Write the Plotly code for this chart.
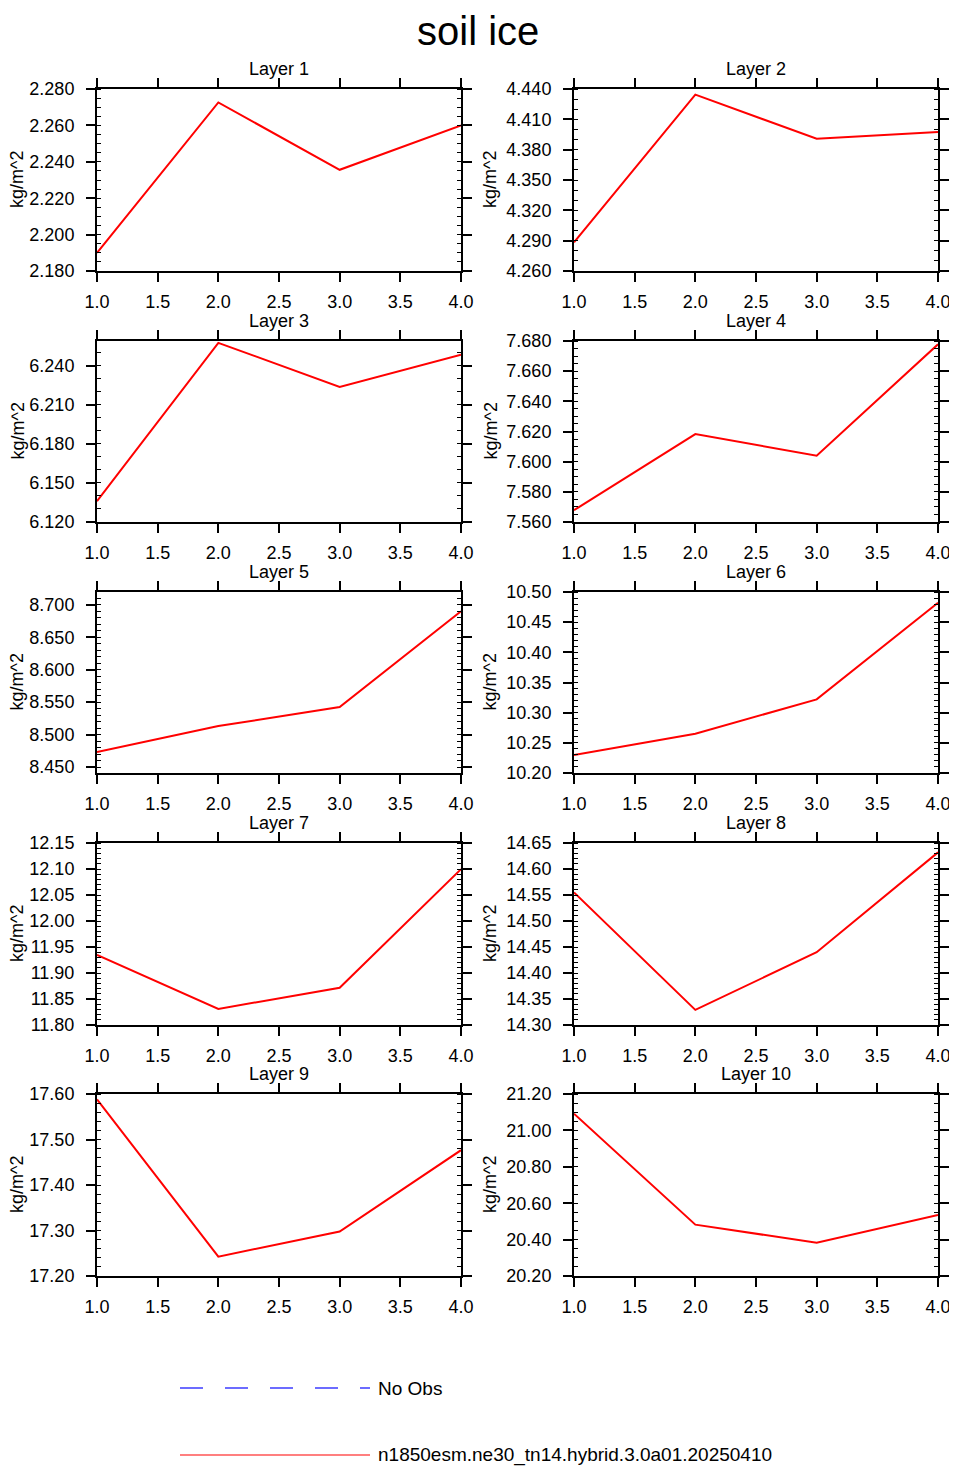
import plotly.graph_objects as go

# eixo x comum (pontos 1..4)
x = [1, 2, 3, 4]

# valores de cada camada
layer1 = [2.190, 2.2726, 2.2356, 2.2600]
layer2 = [4.2884, 4.4344, 4.3908, 4.3974]
layer3 = [6.136, 6.2574, 6.2236, 6.2482]
layer4 = [7.5678, 7.6183, 7.6040, 7.6778]
layer5 = [8.4731, 8.5131, 8.5424, 8.6898]
layer6 = [10.230, 10.265, 10.322, 10.4823]
layer7 = [11.935, 11.831, 11.8716, 12.0998]
layer8 = [14.555, 14.329, 14.440, 14.632]
layer9 = [17.588, 17.2426, 17.2977, 17.4765]
layer10 = [21.092, 20.482, 20.383, 20.535]

titles = ['Layer %d' % i for i in range(1, 11)]
y_ranges = [[2.18, 2.28], [4.26, 4.44], [6.12, 6.2588], [7.56, 7.68], [8.4408, 8.7196],
            [10.2, 10.5], [11.8, 12.15], [14.3, 14.65], [17.2, 17.6], [20.2, 21.2]]
y_tick0 = [2.18, 4.26, 6.12, 7.56, 8.45, 10.2, 11.8, 14.3, 17.2, 20.2]
y_dtick = [0.02, 0.03, 0.03, 0.02, 0.05, 0.05, 0.05, 0.05, 0.1, 0.2]
y_minor = [0.005, 0.01, 0.01, 0.005, 0.01, 0.01, 0.01, 0.01, 0.02, 0.05]
y_fmt = ['.3f'] * 5 + ['.2f'] * 5

legend_labels = ['No Obs', 'n1850esm.ne30_tn14.hybrid.3.0a01.20250410']

series = [layer1, layer2, layer3, layer4, layer5, layer6, layer7, layer8, layer9, layer10]

# a pagina tem margem de 8px no body, entao desconto isso das posicoes
OFF = 8
W, H = 957 - OFF, 1466 - OFF
FONT = 'Liberation Sans, Arial, sans-serif'


def px(v):
    return (v - OFF) / W


def py(v):
    return 1 - (v - OFF) / H


# posicoes dos paineis em pixels da tela
col_px = [(97, 461), (574, 938)]
ylab_px = [17, 490]
row_px = [(89, 271), (341, 522), (592, 773), (843, 1025), (1094, 1276)]

fig = go.Figure()
annotations = []

for i, y in enumerate(series):
    r, c = divmod(i, 2)
    n = i + 1
    xa = 'x' if n == 1 else 'x%d' % n
    ya = 'y' if n == 1 else 'y%d' % n
    fig.add_trace(go.Scatter(x=x, y=y, mode='lines', xaxis=xa, yaxis=ya,
                             line=dict(color='#ff0000', width=2), showlegend=False))
    x0, x1 = col_px[c]
    y0, y1 = row_px[r]
    common = dict(showline=True, linecolor='black', linewidth=2, mirror='ticks',
                  ticks='outside', ticklen=9, tickwidth=1.5, tickcolor='black',
                  showgrid=False, zeroline=False, automargin=False,
                  tickfont=dict(family=FONT, size=18, color='black'))
    fig.layout['xaxis' if n == 1 else 'xaxis%d' % n] = dict(
        domain=[px(x0), px(x1)], anchor=ya, range=[1, 4], tick0=1, dtick=0.5,
        tickformat='.1f', ticklabelstandoff=4, **common)
    fig.layout['yaxis' if n == 1 else 'yaxis%d' % n] = dict(
        domain=[py(y1), py(y0)], anchor=xa, range=y_ranges[i],
        tick0=y_tick0[i], dtick=y_dtick[i], tickformat=y_fmt[i],
        ticklabelstandoff=8,
        minor=dict(ticks='inside', ticklen=4, tickwidth=1, tickcolor='black',
                   dtick=y_minor[i], tick0=y_tick0[i], showgrid=False),
        **common)
    # titulo do painel
    annotations.append(dict(text=titles[i], x=px((x0 + x1) / 2), y=py(y0 - 20),
                            xref='paper', yref='paper', xanchor='center', yanchor='middle',
                            showarrow=False, font=dict(family=FONT, size=18, color='black')))
    # rotulo do eixo y
    annotations.append(dict(text='kg/m^2', x=px(ylab_px[c]), y=py((y0 + y1) / 2),
                            xref='paper', yref='paper', xanchor='center', yanchor='middle',
                            textangle=-90, showarrow=False,
                            font=dict(family=FONT, size=18, color='black')))

# titulo principal
annotations.append(dict(text='soil ice', x=px(478), y=1, xref='paper', yref='paper',
                        xanchor='center', yanchor='top', showarrow=False, borderpad=0,
                        font=dict(family=FONT, size=40, color='black')))

# legenda desenhada a mao (estilo NCL)
shapes = [
    dict(type='line', xref='paper', yref='paper', x0=px(180), x1=px(370),
         y0=py(1388), y1=py(1388), line=dict(color='#3c3cff', width=1.5, dash='23px,22px')),
    dict(type='line', xref='paper', yref='paper', x0=px(180), x1=px(370),
         y0=py(1455), y1=py(1455), line=dict(color='#ff0000', width=1.2)),
]
for lab, ypx in zip(legend_labels, [1388, 1455]):
    annotations.append(dict(text=lab, x=px(376), y=py(ypx), xref='paper', yref='paper',
                            xanchor='left', yanchor='middle', showarrow=False,
                            font=dict(family=FONT, size=19, color='black')))

fig.update_layout(width=W, height=H, margin=dict(l=0, r=0, t=0, b=0),
                  paper_bgcolor='white', plot_bgcolor='white',
                  annotations=annotations, shapes=shapes, showlegend=False)

fig.write_html("out.html")
